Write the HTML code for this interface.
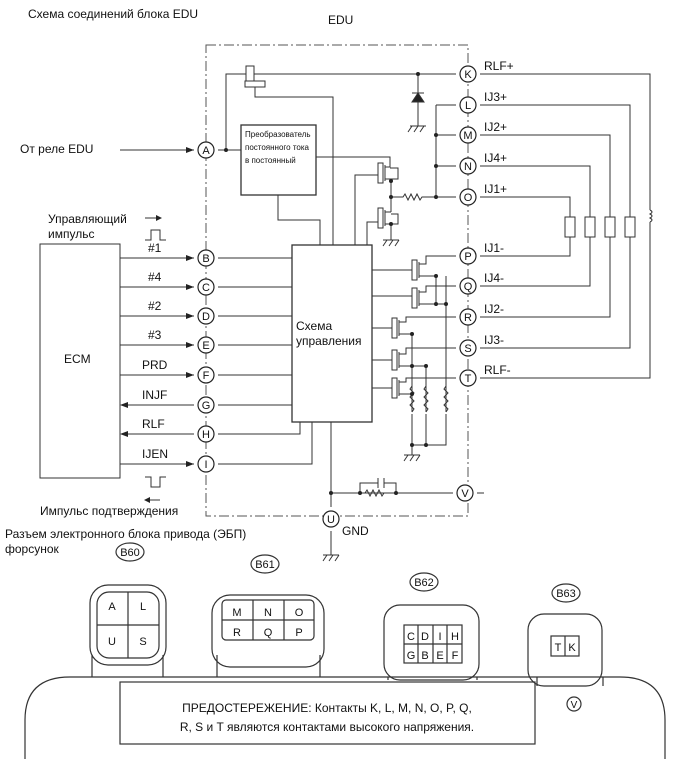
<!DOCTYPE html>
<html><head><meta charset="utf-8"><style>
html,body{margin:0;padding:0;background:#fff;}
svg{display:block;font-family:"Liberation Sans",sans-serif;}
text{font-family:"Liberation Sans",sans-serif;fill:#111;}
</style></head><body>
<svg width="690" height="759" viewBox="0 0 690 759" xmlns="http://www.w3.org/2000/svg">
<g fill="none" stroke="#333" stroke-width="1">
<path d="M206 45 H468 V516 H206 Z" stroke-dasharray="10,3,2,3" stroke="#555"/>
<rect x="40" y="244" width="80" height="234"/>
<rect x="292" y="245" width="80" height="177" stroke-width="1.3"/>
<rect x="241" y="125" width="75" height="70" stroke-width="1.3"/>
<path d="M120 258H194 M120 287H194 M120 316H194 M120 345H194 M120 375H194 M126 405H194 M126 434H194 M120 464H194"/>
<path d="M218 258H292 M218 287H292 M218 316H292 M218 345H292 M218 375H292 M218 405H292 M218 434H300V422 M218 464H312V422"/>
<path d="M120 150H194 M218 150H241 M226 150V74H246"/>
<rect x="246" y="66" width="8" height="15"/>
<rect x="245" y="81" width="20" height="6"/>
<path d="M254 74H456 M255 87V97H333V245"/>
<path d="M418 74V126 M410 126H426 M408 132l4-6 M414 132l4-6 M420 132l4-6"/>
<path d="M412 102H424L418 93Z" fill="#222"/>
<path d="M412 93H424"/>
<path d="M436 105V197 M436 135H456 M436 166H456 M436 105H456 M436 197H456"/>
<path d="M392 197H403l2-3 3 6 3-6 3 6 3-6 3 6 2-3H436"/>
<path d="M316 157H390V163 M278 195V220H320V245 M355 245V175H378 M367 245V222H378"/>
<rect x="378" y="163" width="5" height="20"/><rect x="378" y="208" width="5" height="20"/>
<path d="M385 165V181 M385 167H390V163 M385 179H398V168H390 M391 181V212 M385 210V226 M385 212H391 M385 224H398V214H391 M391 224V240 M383 240H399 M383 246l4-6 M389 246l4-6 M395 246l4-6"/>
<path d="M372 270H412 M372 296H412 M372 328H392 M372 360H392 M372 388H392"/>
<rect x="412" y="260" width="5" height="20"/><rect x="412" y="288" width="5" height="20"/>
<rect x="392" y="318" width="5" height="20"/><rect x="392" y="350" width="5" height="20"/><rect x="392" y="378" width="5" height="20"/>
<path d="M419 262V278 M419 264H426V256H456 M419 276H436 M419 290V306 M419 292H426V286H456 M419 304H446"/>
<path d="M399 320V336 M399 322H406V317H456 M399 334H412 M399 352V368 M399 354H406V348H456 M399 366H426 M399 380V396 M399 382H406V378H456 M399 394H412"/>
<path d="M446 276V412 M436 276V306 M412 334V412 M426 366V412 M412 394V412"/>
<path d="M412 412l2-3-4-4 4-4-4-4 4-4-4-4 2-3 M426 412l2-3-4-4 4-4-4-4 4-4-4-4 2-3 M446 412l2-3-4-4 4-4-4-4 4-4-4-4 2-3"/>
<path d="M412 414V445H446V414 M426 414V445 M412 445V455 M404 455H420 M404 461l4-6 M410 461l4-6 M416 461l4-6"/>
<!-- right injector wiring -->
<path d="M480 74H650V210 M650 222V378H480"/>
<path d="M480 105H630V217 M630 237V348H480"/>
<path d="M480 135H610V217 M610 237V317H480"/>
<path d="M480 166H590V217 M590 237V286H480"/>
<path d="M480 197H570V217 M570 237V256H480"/>
<rect x="565" y="217" width="10" height="20"/><rect x="585" y="217" width="10" height="20"/><rect x="605" y="217" width="10" height="20"/><rect x="625" y="217" width="10" height="20"/>
<path d="M331 422V507 M331 531V555 M323 555H339 M323 561l4-6 M329 561l4-6 M335 561l4-6"/>
<path d="M331 493H453 M360 493V483H378 M384 483H396V493 M365 493l2-3 3 6 3-6 3 6 3-6 3 6 2-3 M378 478V488 M384 478V488"/>
<path d="M477 493H484"/>
<path d="M145 218H158 M145 240H151V230H160V240H166 M150 500H160 M145 477H151V487H160V477H166"/>
</g>
<g fill="#222">
<path d="M162 218l-6-3v6Z M144 500l6-3v6Z"/>
<path d="M194 258l-8-3v6Z M194 287l-8-3v6Z M194 316l-8-3v6Z M194 345l-8-3v6Z M194 375l-8-3v6Z M194 150l-8-3v6Z M194 464l-8-3v6Z M120 405l8-3v6Z M120 434l8-3v6Z"/>
<circle cx="226" cy="150" r="2"/><circle cx="418" cy="74" r="2"/><circle cx="436" cy="135" r="2"/><circle cx="436" cy="166" r="2"/><circle cx="436" cy="197" r="2"/><circle cx="391" cy="181" r="2"/><circle cx="391" cy="197" r="2"/><circle cx="391" cy="224" r="2"/>
<circle cx="436" cy="276" r="2"/><circle cx="436" cy="304" r="2"/><circle cx="446" cy="304" r="2"/><circle cx="412" cy="334" r="2"/><circle cx="412" cy="366" r="2"/><circle cx="426" cy="366" r="2"/><circle cx="412" cy="394" r="2"/><circle cx="412" cy="445" r="2"/><circle cx="426" cy="445" r="2"/><circle cx="331" cy="493" r="2"/><circle cx="360" cy="493" r="2"/><circle cx="396" cy="493" r="2"/>
</g>
<g fill="#fff" stroke="#222" stroke-width="1.2">
<circle cx="206" cy="150" r="8"/><circle cx="206" cy="258" r="8"/><circle cx="206" cy="287" r="8"/><circle cx="206" cy="316" r="8"/><circle cx="206" cy="345" r="8"/><circle cx="206" cy="375" r="8"/><circle cx="206" cy="405" r="8"/><circle cx="206" cy="434" r="8"/><circle cx="206" cy="464" r="8"/>
<circle cx="468" cy="74" r="8"/><circle cx="468" cy="105" r="8"/><circle cx="468" cy="135" r="8"/><circle cx="468" cy="166" r="8"/><circle cx="468" cy="197" r="8"/><circle cx="468" cy="256" r="8"/><circle cx="468" cy="286" r="8"/><circle cx="468" cy="317" r="8"/><circle cx="468" cy="348" r="8"/><circle cx="468" cy="378" r="8"/><circle cx="465" cy="493" r="8"/><circle cx="331" cy="519" r="8"/>
</g>
<g font-size="11" text-anchor="middle">
<text x="206" y="154">A</text><text x="206" y="262">B</text><text x="206" y="291">C</text><text x="206" y="320">D</text><text x="206" y="349">E</text><text x="206" y="379">F</text><text x="206" y="409">G</text><text x="206" y="438">H</text><text x="206" y="468">I</text>
<text x="468" y="78">K</text><text x="468" y="109">L</text><text x="468" y="139">M</text><text x="468" y="170">N</text><text x="468" y="201">O</text><text x="468" y="260">P</text><text x="468" y="290">Q</text><text x="468" y="321">R</text><text x="468" y="352">S</text><text x="468" y="382">T</text><text x="465" y="497">V</text><text x="331" y="523">U</text>
</g>
<g font-size="12">
<text x="28" y="18">Схема соединений блока EDU</text>
<text x="328" y="24">EDU</text>
<text x="20" y="153">От реле EDU</text>
<text x="48" y="223">Управляющий</text><text x="48" y="238">импульс</text>
<text x="148" y="252">#1</text><text x="148" y="281">#4</text><text x="148" y="310">#2</text><text x="148" y="339">#3</text>
<text x="142" y="369">PRD</text><text x="142" y="399">INJF</text><text x="142" y="428">RLF</text><text x="142" y="458">IJEN</text>
<text x="64" y="363">ECM</text>
<text x="40" y="515">Импульс подтверждения</text>
<text x="5" y="538">Разъем электронного блока привода (ЭБП)</text>
<text x="5" y="553">форсунок</text>
<text x="296" y="330">Схема</text><text x="296" y="345">управления</text>
<text x="342" y="535">GND</text>
<text x="484" y="70">RLF+</text><text x="484" y="101">IJ3+</text><text x="484" y="131">IJ2+</text><text x="484" y="162">IJ4+</text><text x="484" y="193">IJ1+</text>
<text x="484" y="252">IJ1-</text><text x="484" y="282">IJ4-</text><text x="484" y="313">IJ2-</text><text x="484" y="344">IJ3-</text><text x="484" y="374">RLF-</text>
</g>
<g font-size="8"><text x="245" y="137">Преобразователь</text><text x="245" y="150">постоянного тока</text><text x="245" y="163">в постоянный</text></g>
<path d="M650 210q4 2 0 4q4 2 0 4q4 2 0 4" fill="none" stroke="#333"/>
<g fill="none" stroke="#333" stroke-width="1.2">
<path d="M25 759V720Q25 677 70 677H620Q665 677 665 720V759"/>
<rect x="120" y="682" width="415" height="62"/>
<path d="M92 677V655 M163 677V655 M217 677V655 M320 677V655 M388 677V680 M477 677V680 M537 677V686 M603 677V686"/>
<rect x="90" y="585" width="76" height="80" rx="18"/><rect x="97" y="592" width="62" height="66" rx="12"/>
<path d="M128 592V658 M97 625H159"/>
<rect x="212" y="595" width="112" height="72" rx="18"/><rect x="222" y="600" width="92" height="40" rx="4"/>
<path d="M253 600V640 M284 600V640 M222 620H314"/>
<rect x="384" y="605" width="95" height="75" rx="16"/><rect x="404" y="625" width="58" height="38"/>
<path d="M418 625V663 M433 625V663 M447 625V663 M404 644H462"/>
<rect x="528" y="614" width="74" height="72" rx="16"/><rect x="551" y="636" width="28" height="20"/><path d="M565 636V656"/>
<ellipse cx="130" cy="552" rx="14" ry="9"/><ellipse cx="265" cy="564" rx="14" ry="9"/><ellipse cx="424" cy="582" rx="14" ry="9"/><ellipse cx="566" cy="593" rx="14" ry="9"/>
<circle cx="574" cy="704" r="7"/>
</g>
<g font-size="11" text-anchor="middle">
<text x="130" y="556">B60</text><text x="265" y="568">B61</text><text x="424" y="586">B62</text><text x="566" y="597">B63</text>
<text x="112" y="610">A</text><text x="143" y="610">L</text><text x="112" y="645">U</text><text x="143" y="645">S</text>
<text x="237" y="616">M</text><text x="268" y="616">N</text><text x="299" y="616">O</text><text x="237" y="636">R</text><text x="268" y="636">Q</text><text x="299" y="636">P</text>
<text x="411" y="640">C</text><text x="425" y="640">D</text><text x="440" y="640">I</text><text x="455" y="640">H</text><text x="411" y="659">G</text><text x="425" y="659">B</text><text x="440" y="659">E</text><text x="455" y="659">F</text>
<text x="558" y="651">T</text><text x="572" y="651">K</text><text x="574" y="708" font-size="10">V</text>
<text x="327" y="712" font-size="12">ПРЕДОСТЕРЕЖЕНИЕ: Контакты K, L, M, N, O, P, Q,</text>
<text x="327" y="731" font-size="12">R, S и T являются контактами высокого напряжения.</text>
</g>
</svg>
</body></html>
